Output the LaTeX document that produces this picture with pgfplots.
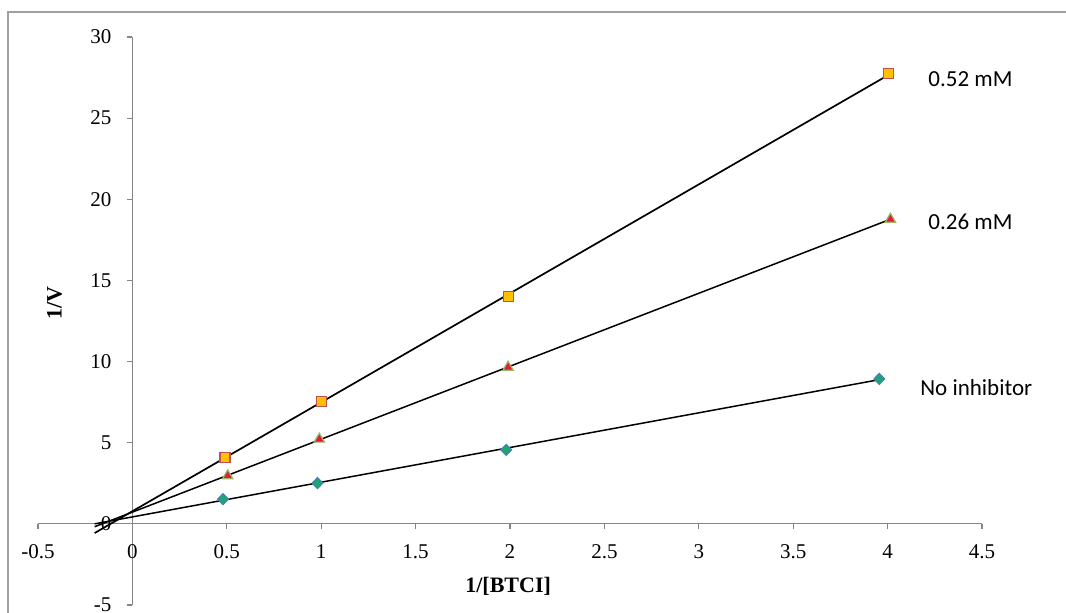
\documentclass[border=0pt]{standalone}
\usepackage{fontspec}
\setmainfont{Liberation Serif}
\newfontfamily\calibri{Carlito}
\usepackage{pgfplots}
\pgfplotsset{compat=1.18}
\definecolor{axgray}{RGB}{134,134,134}
\definecolor{framegray}{RGB}{160,160,160}
\definecolor{dgreen}{RGB}{27,166,114}
\definecolor{dblue}{RGB}{74,126,187}
\definecolor{tred}{RGB}{227,23,75}
\definecolor{tgreen}{RGB}{155,187,89}
\definecolor{sorange}{RGB}{255,192,0}
\definecolor{sred}{RGB}{192,80,77}
\begin{document}
\begin{tikzpicture}
\useasboundingbox (-19pt,-4pt) rectangle (514pt,302.5pt);
\draw[color=framegray, line width=0.6pt] (-15pt,-4pt) -- (-15pt,296.5pt) -- (514pt,296.5pt);
\begin{axis}[
  at={(0,0)}, anchor=south west,
  scale only axis, width=472pt, height=284pt,
  xmin=-0.5, xmax=4.5, ymin=-5, ymax=30,
  axis x line=middle, axis y line=middle,
  axis line style={axgray, line width=0.6pt, -},
  every inner x axis line/.append style={-},
  every inner y axis line/.append style={-},
  xtick={-0.5,0,0.5,1,1.5,2,2.5,3,3.5,4,4.5},
  ytick={-5,0,5,10,15,20,25,30},
  tick align=outside, major tick length=2.5pt,
  tick style={axgray, line width=0.6pt},
  hide obscured x ticks=false, hide obscured y ticks=false,
  /pgf/number format/assume math mode=true,
  ticklabel style={font=\fontsize{10.5}{12}\selectfont},
  xticklabel style={yshift=-4.5pt},
  yticklabel style={xshift=-4.5pt},
  clip=false,
]
\addplot[only marks, mark=diamond*, mark size=2.8pt, mark options={draw=dblue, fill=dgreen, line width=0.5pt, xscale=1.3}]
  coordinates {(0.48,1.52) (0.98,2.51) (1.98,4.56) (3.956,8.93)};
\addplot[only marks, mark=triangle*, mark size=3.0pt, mark options={draw=tgreen, fill=tred, line width=0.6pt}]
  coordinates {(0.505,2.96) (0.99,5.22) (1.99,9.65) (4.015,18.77)};
\addplot[only marks, mark=square*, mark size=2.5pt, mark options={draw=sred, fill=sorange, line width=0.6pt}]
  coordinates {(0.49,4.11) (1.0,7.54) (1.99,13.99) (4.006,27.73)};
\addplot[black, line width=0.75pt, no marks] coordinates {(-0.2,0.0) (3.956,8.885)};
\addplot[black, line width=0.75pt, no marks] coordinates {(-0.2,-0.177) (4.015,18.77)};
\addplot[black, line width=0.85pt, no marks] coordinates {(-0.2,-0.566) (4.006,27.67)};
\node[font=\calibri\fontsize{11.5}{13}\selectfont] at (axis cs:4.439,27.42) {0.52 mM};
\node[font=\calibri\fontsize{11.5}{13}\selectfont] at (axis cs:4.439,18.61) {0.26 mM};
\node[font=\calibri\fontsize{11.5}{13}\selectfont] at (axis cs:4.47,8.38) {No inhibitor};
\node[font=\bfseries\fontsize{11}{13}\selectfont] at (axis cs:1.99,-3.88) {1/[BTCI]};
\node[font=\bfseries\fontsize{11}{13}\selectfont, rotate=90] at (axis cs:-0.413,13.6) {1/V};
\end{axis}
\end{tikzpicture}
\end{document}
